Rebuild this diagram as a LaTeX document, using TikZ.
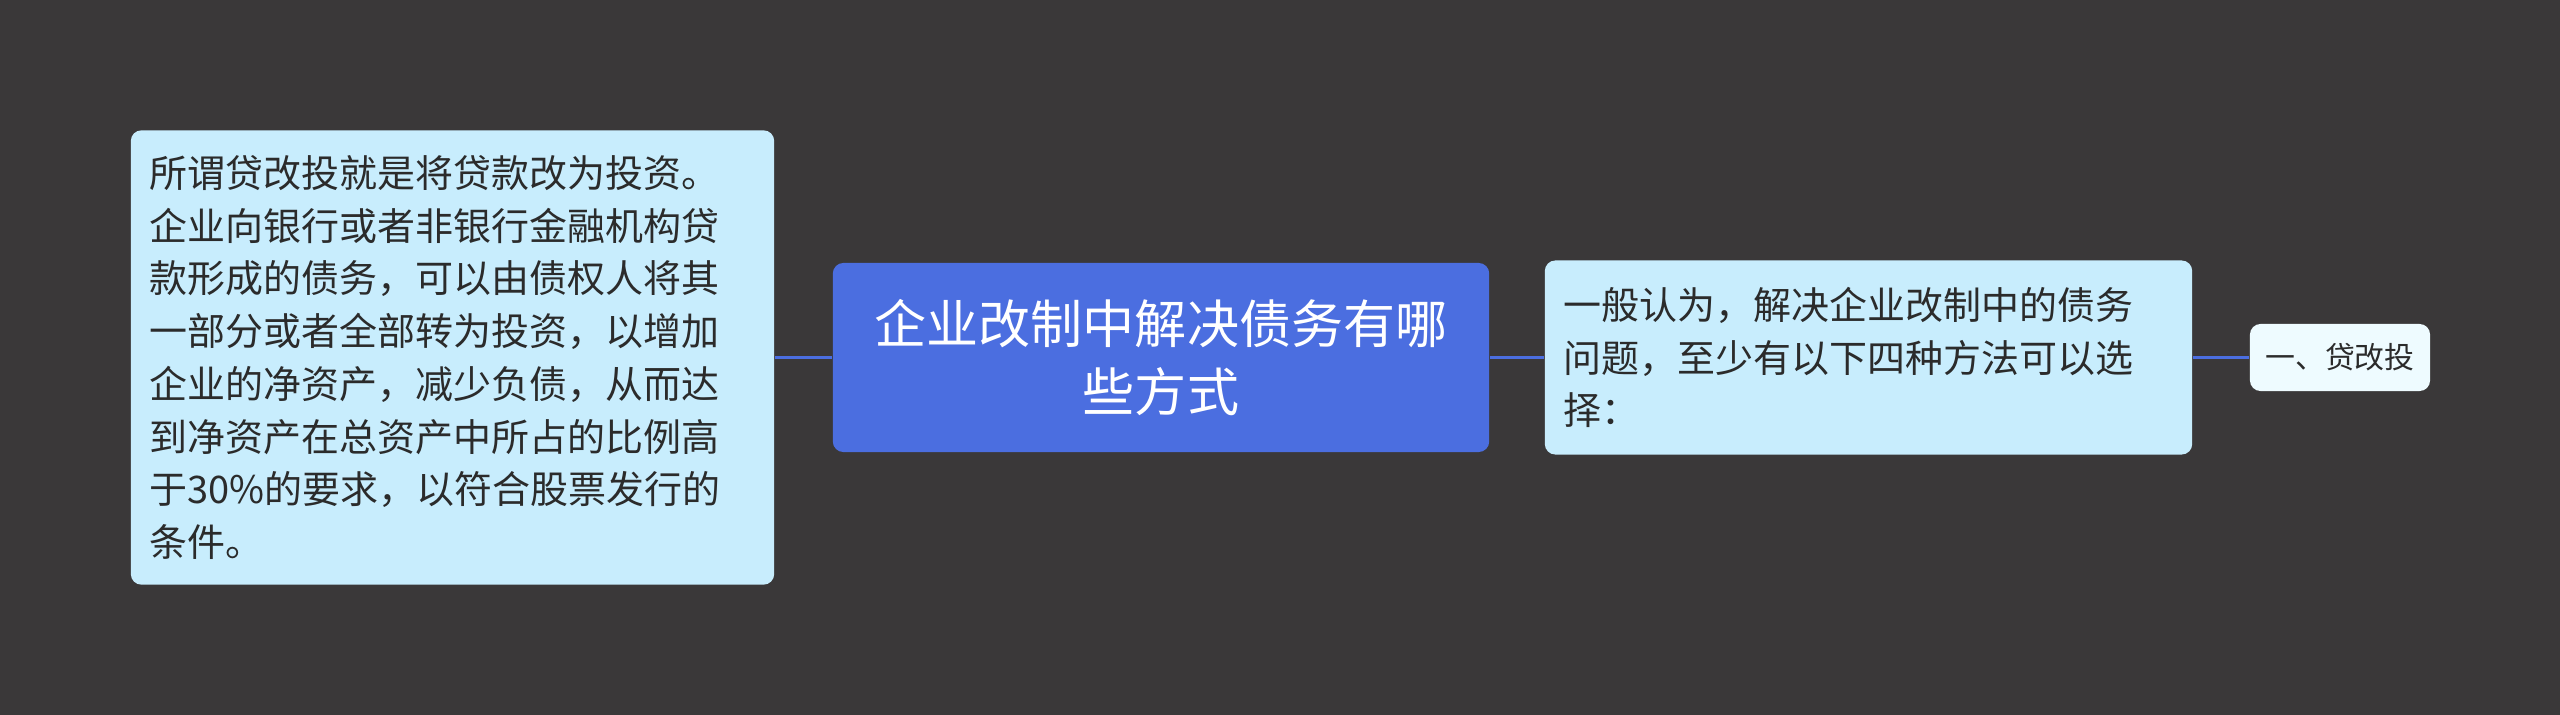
\documentclass[tikz,border=0pt]{standalone}
\usepackage{fontspec}
\setmainfont{Noto Sans CJK SC}
\definecolor{bgdark}{HTML}{3A3839}
\definecolor{rootblue}{HTML}{4B6EE0}
\definecolor{leafblue}{HTML}{C8EDFD}
\definecolor{tipblue}{HTML}{EEFBFF}
\definecolor{inkdark}{HTML}{2B2B2B}
\tikzset{
  textbox/.style={fill=leafblue,rounded corners=3pt,align=left,text=inkdark,
    inner xsep=0.19cm,inner ysep=0pt,
    font=\fontsize{10.8pt}{15pt}\selectfont},
  rootbox/.style={fill=rootblue,rounded corners=3pt,align=center,text=white,
    inner sep=0pt,minimum width=6.56cm,minimum height=1.89cm,
    font=\fontsize{14.8pt}{19.3pt}\selectfont},
  tipbox/.style={fill=tipblue,rounded corners=3pt,align=center,text=inkdark,
    inner sep=0pt,minimum width=1.8cm,minimum height=0.67cm,
    font=\fontsize{8.5pt}{10pt}\selectfont},
  link/.style={rootblue,line width=1.1pt}
}
\begin{document}
\begin{tikzpicture}[x=0.01cm,y=-0.01cm]
\fill[bgdark] (0,0) rectangle (2560,715);
\useasboundingbox (0,0) rectangle (2560,715);

\node[rootbox] (root) at (1161,357.5) {企业改制中解决债务有哪\\些方式};
\node[textbox,text width=6.05cm,minimum width=6.43cm,minimum height=4.54cm] (desc) at (452.5,357.5)
  {所谓贷改投就是将贷款改为投资。\\企业向银行或者非银行金融机构贷\\款形成的债务，可以由债权人将其\\一部分或者全部转为投资，以增加\\企业的净资产，减少负债，从而达\\到净资产在总资产中所占的比例高\\于30\%的要求，以符合股票发行的\\条件。};
\node[textbox,text width=6.09cm,minimum width=6.45cm,minimum height=1.94cm] (intro) at (1868.5,357.5)
  {一般认为，解决企业改制中的债务\\问题，至少有以下四种方法可以选\\择：};
\node[tipbox] (way1) at (2340,357.5) {一、贷改投};

\draw[link] (root.west) -- (desc.east);
\draw[link] (root.east) -- (intro.west);
\draw[link] (intro.east) -- (way1.west);

\end{tikzpicture}
\end{document}
